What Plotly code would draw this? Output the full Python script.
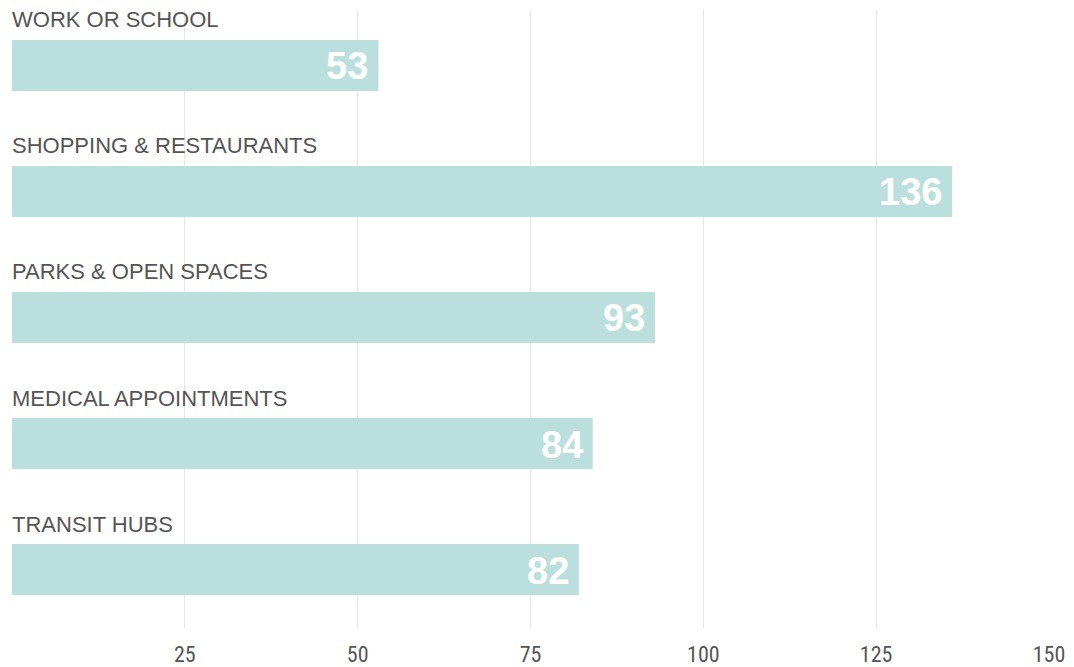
import plotly.graph_objects as go

categories = ["WORK OR SCHOOL", "SHOPPING & RESTAURANTS", "PARKS & OPEN SPACES",
              "MEDICAL APPOINTMENTS", "TRANSIT HUBS"]
values = [53, 136, 93, 84, 82]
tick_vals = [25, 50, 75, 100, 125, 150]

positions = list(range(len(categories)))
bar_color = "#bbdfdc"
text_color = "#555555"

fig = go.Figure()
fig.add_trace(go.Bar(
    x=values, y=positions, orientation="h",
    marker=dict(color=bar_color, line=dict(width=0)),
    width=0.405, hoverinfo="skip",
))

annotations = []
for p, c, v in zip(positions, categories, values):
    annotations.append(dict(
        x=0, y=p - 0.369, xref="x", yref="y", text=c, showarrow=False,
        xanchor="left", yanchor="middle", xshift=-2, yshift=-1,
        font=dict(family="Liberation Sans, Arial, sans-serif", size=22, color=text_color),
    ))
    annotations.append(dict(
        x=v, y=p, xref="x", yref="y", text="<b>%d</b>" % v, showarrow=False,
        xanchor="right", yanchor="middle", xshift=-8, yshift=-1,
        font=dict(family="Liberation Sans, Arial, sans-serif", size=38, color="white"),
    ))

fig.update_layout(
    width=1066, height=659,
    margin=dict(l=4, r=25, t=2, b=39, autoexpand=False),
    paper_bgcolor="white", plot_bgcolor="white",
    showlegend=False,
    annotations=annotations,
    xaxis=dict(range=[0, 150], tickvals=tick_vals, showgrid=True, gridcolor="#e6e6e6",
               gridwidth=1, zeroline=False, showline=False, ticks="",
               automargin=False, ticklabelstandoff=11,
               tickfont=dict(family="Liberation Sans Narrow, Roboto Condensed, Arial Narrow, sans-serif",
                             size=22, color=text_color)),
    yaxis=dict(range=[4.464, -0.44], showgrid=False, zeroline=False, showticklabels=False,
               showline=False, automargin=False),
)

fig.write_html("out.html")
